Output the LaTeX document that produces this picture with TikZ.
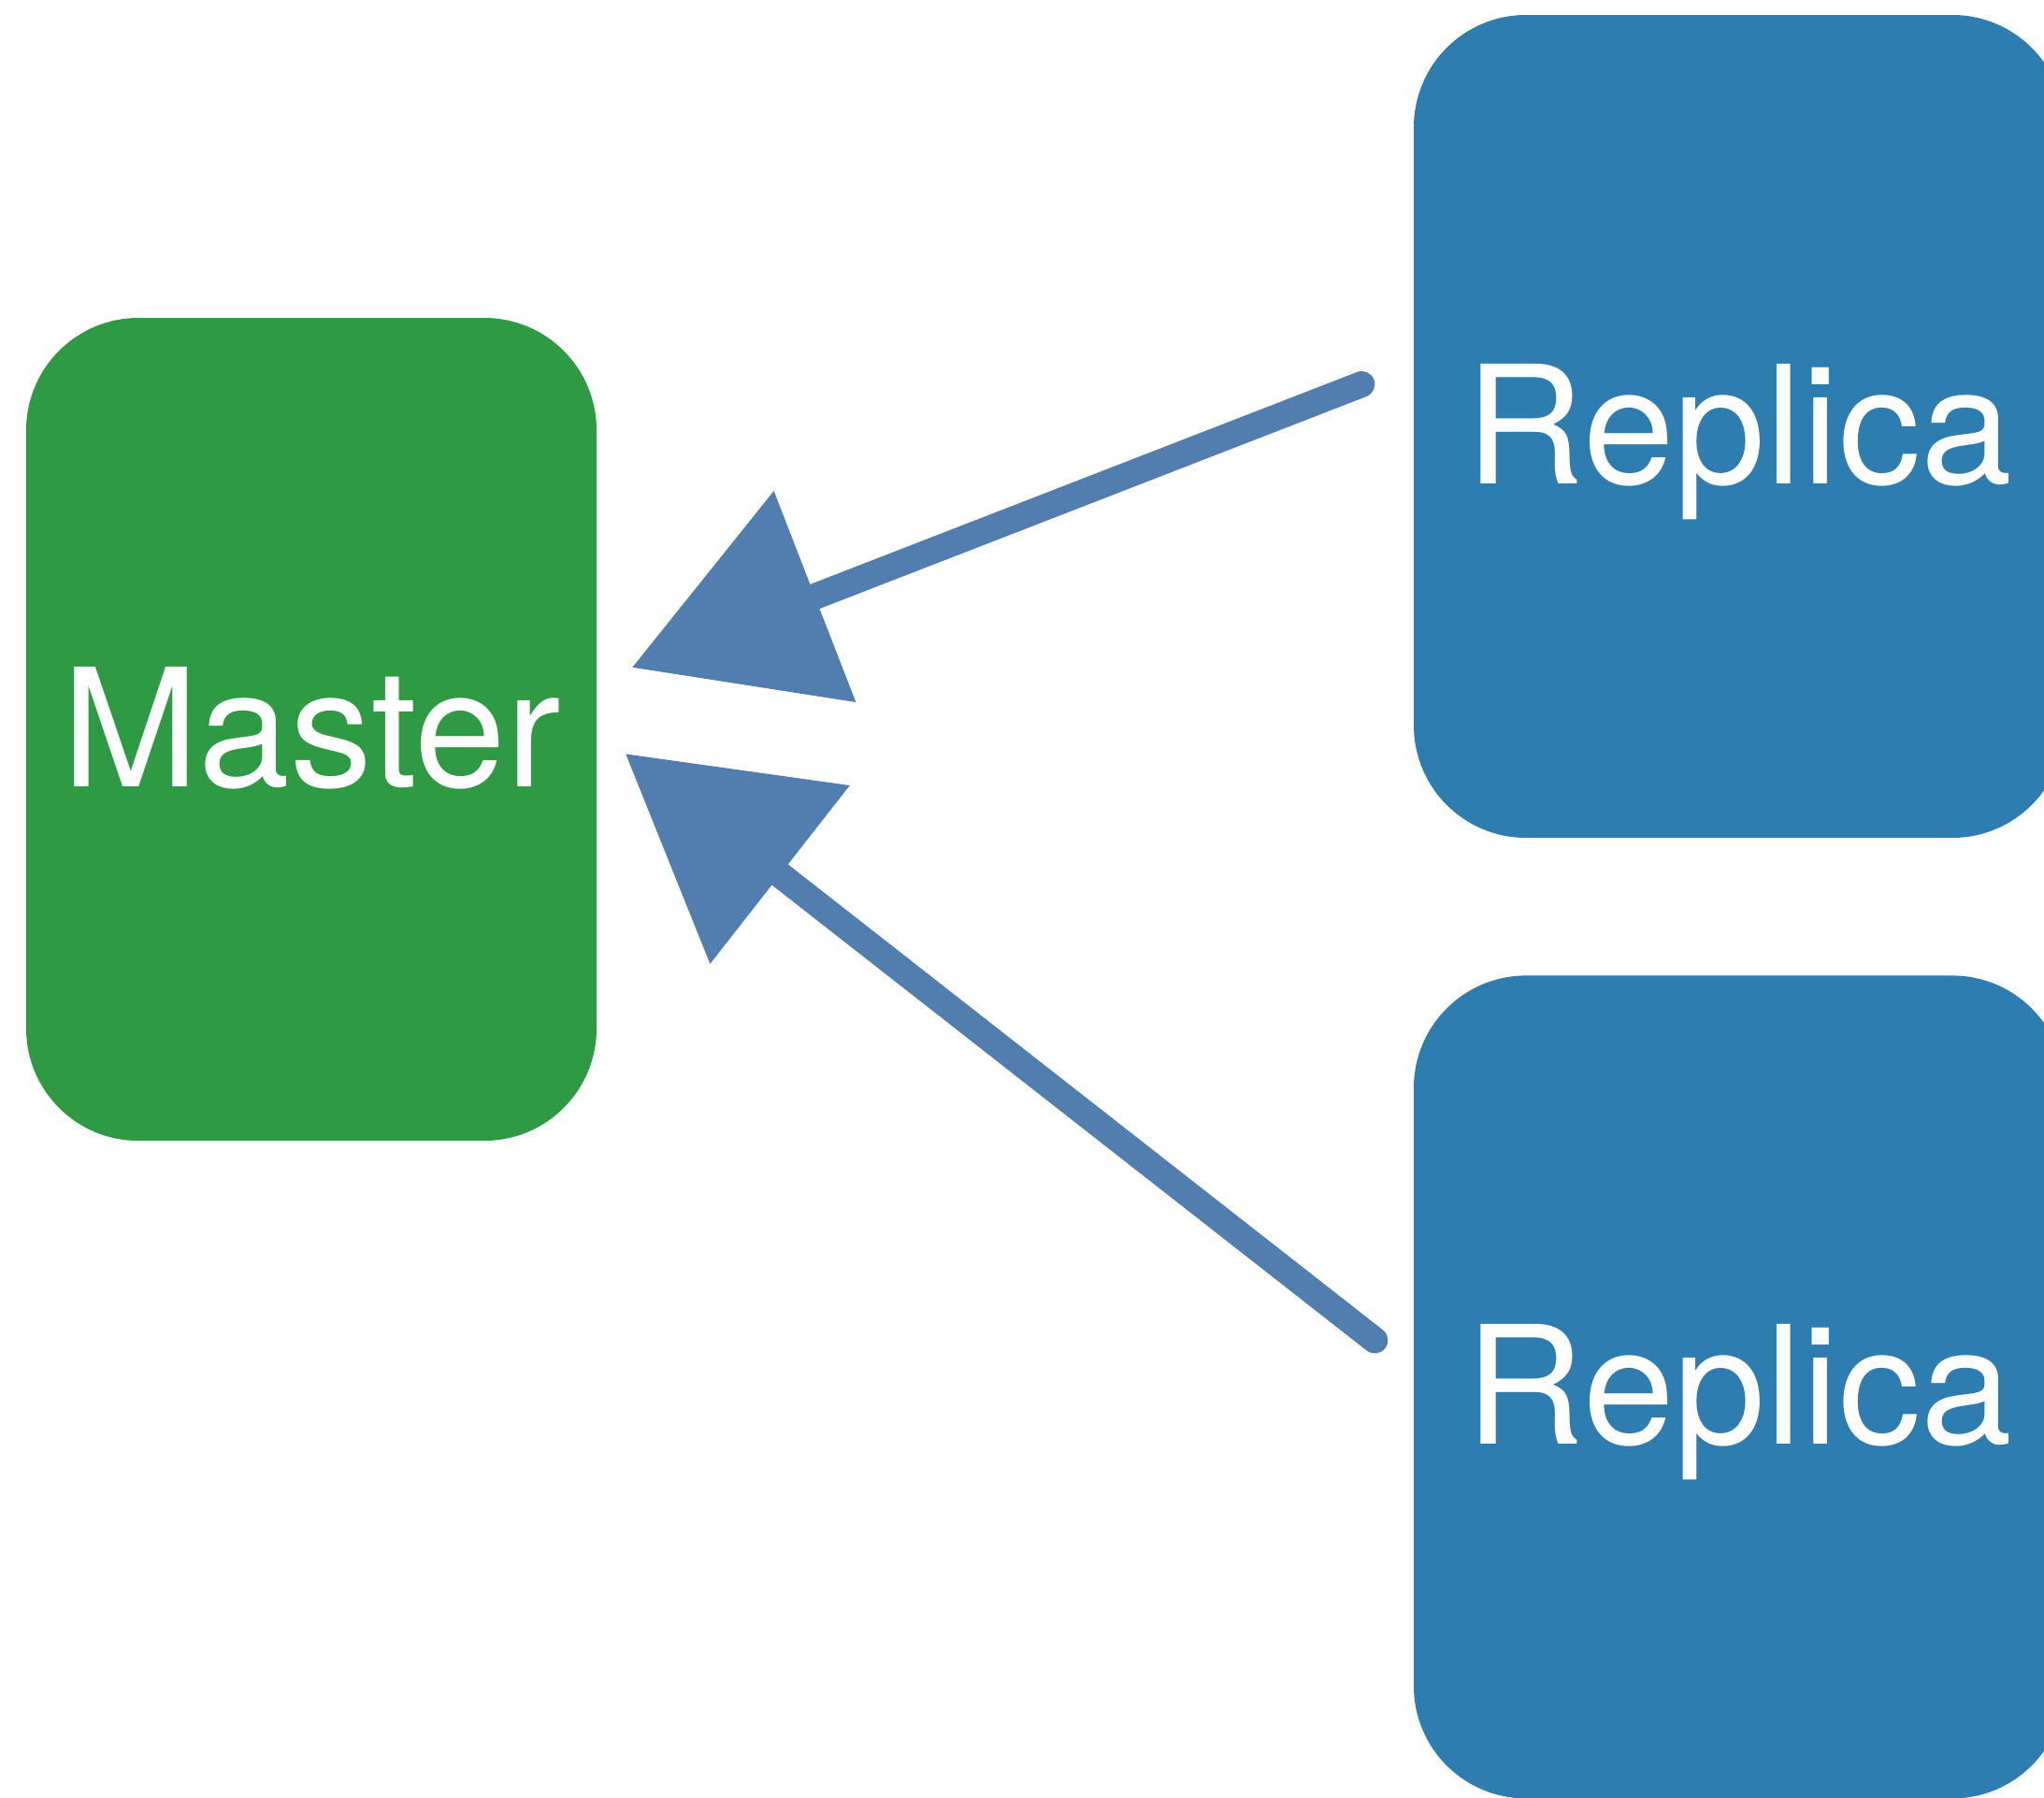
\documentclass[tikz,border=0pt]{standalone}
\usepackage{fontspec}
\setmainfont{TeX Gyre Heros}
\usepackage{xcolor}
\usepackage{tikz}
\usetikzlibrary{arrows.meta,positioning,calc}
\definecolor{hmaster}{HTML}{2E9A43}
\definecolor{hreplica}{HTML}{2E7DB0}
\definecolor{harrow}{HTML}{517EAE}

\begin{document}
\begin{tikzpicture}[
        box/.style={draw=none, rounded corners=1.2cm, minimum height=8.8cm, text=white,
                    text height=35pt, text depth=0pt, font=\fontsize{50}{60}\selectfont},
        arr/.style={-{Triangle[length=2.1cm, width=2.35cm]}, line width=0.28cm, harrow,
                    line cap=round, line join=round}]
        \useasboundingbox (0,0) rectangle (21.86,-19.22);
        \clip (0,0) rectangle (21.86,-19.22);
        \node[box, fill=hmaster, minimum width=6.1cm] (master) at (3.33,-7.8) {Master};
        \node[box, fill=hreplica, minimum width=6.96cm] (rtop) at (18.6,-4.56) {Replica};
        \node[box, fill=hreplica, minimum width=6.96cm, below=1.46cm of rtop] (rbot) {Replica};
        % free ends of the two arrows
        \coordinate (s1) at ($(rtop.west)+(-0.55,0.45)$);
        \coordinate (e1) at ($(master.east)+(0.37,0.66)$);
        \coordinate (s2) at ($(rbot.west)+(-0.41,0.50)$);
        \coordinate (e2) at ($(master.east)+(0.30,-0.26)$);
        \draw[arr] (s1) -- (e1); \draw[arr] (s2) -- (e2);
      \end{tikzpicture}
\end{document}
